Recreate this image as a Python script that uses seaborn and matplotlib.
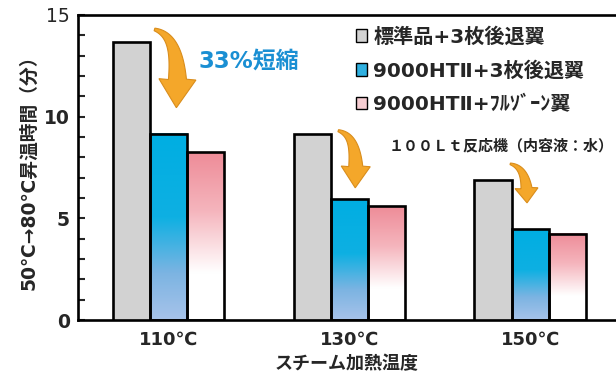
import numpy as np
import pandas as pd
import seaborn as sns
import matplotlib.pyplot as plt
from matplotlib.patches import Patch, Polygon
from matplotlib.colors import to_rgb
from matplotlib.ticker import MultipleLocator
from matplotlib.transforms import IdentityTransform

# data
temps = ['110℃', '130℃', '150℃']
types = ['標準品+3枚後退翼', '9000HTⅡ+3枚後退翼', '9000HTⅡ+ﾌﾙｿﾞｰﾝ翼']
std_times = [13.65, 9.15, 6.9]
ht_times = [9.15, 5.95, 4.47]
full_times = [8.25, 5.6, 4.23]

df = pd.DataFrame({
    'temp': temps * 3,
    'type': [types[0]] * 3 + [types[1]] * 3 + [types[2]] * 3,
    'time': std_times + ht_times + full_times,
})

sns.set_style('ticks')
plt.rcParams['font.family'] = ['DejaVu Sans', 'Noto Sans CJK JP']
plt.rcParams['font.weight'] = 'bold'

fig = plt.figure(figsize=(6.16, 3.79), dpi=100)
ax = fig.add_axes([78 / 616, 1 - 320 / 379, 1 - 78 / 616, 305 / 379])

gray = '#d2d2d2'
palette = {types[0]: gray, types[1]: '#00aee2', types[2]: '#ef8f9b'}
sns.barplot(data=df, x='temp', y='time', hue='type', palette=palette,
            width=0.615, gap=0, edgecolor='black', linewidth=1.9,
            saturation=1, legend=False, ax=ax, zorder=3)


def ramp(stops, n=200):
    # stops: list of (fraction from top, colour)
    pos = np.linspace(0, 1, n)
    fr = [s[0] for s in stops]
    cols = np.array([to_rgb(s[1]) for s in stops])
    arr = np.stack([np.interp(pos, fr, cols[:, k]) for k in range(3)], axis=-1)
    return arr[:, None, :]


grad = {
    1: ramp([(0, '#00aee2'), (0.45, '#0eb0e2'), (0.75, '#7cb4e2'), (1, '#a7c3ea')]),
    2: ramp([(0, '#ee8c98'), (0.35, '#f5b5bd'), (0.72, '#ffffff'), (1, '#ffffff')]),
}

for i, cont in enumerate(ax.containers):
    for bar in cont:
        if i == 0:
            continue
        x0, w, h = bar.get_x(), bar.get_width(), bar.get_height()
        bar.set_facecolor('none')
        ax.imshow(grad[i], extent=[x0, x0 + w, 0, h], aspect='auto',
                  origin='upper', zorder=2, interpolation='bilinear')

ax.set_xlim(-0.5, 2.475)
ax.set_ylim(0, 15)

ax.set_yticks([0, 5, 10, 15])
ax.yaxis.set_minor_locator(MultipleLocator(1))
ax.tick_params(axis='y', which='both', direction='in', length=5, width=1.5,
               labelsize=13.5, pad=6)
ax.tick_params(axis='x', length=0, labelsize=13, pad=8)
for lab in ax.get_yticklabels():
    lab.set_fontweight('bold')
ax.get_yticklabels()[-1].set_fontweight('normal')
for lab in ax.get_xticklabels():
    lab.set_fontweight('bold')

for side in ['left', 'bottom', 'top']:
    ax.spines[side].set_linewidth(1.9)
    ax.spines[side].set_color('black')
ax.spines['right'].set_visible(False)

ax.set_xlabel('スチーム加熱温度', fontsize=13, fontweight='bold', labelpad=4)
ax.set_ylabel('50℃→80℃昇温時間（分）', fontsize=13.5, fontweight='bold', labelpad=4)

# legend
handles = [
    Patch(facecolor=gray, edgecolor='black', lw=1),
    Patch(facecolor='#2fb0e0', edgecolor='black', lw=1),
    Patch(facecolor='#f6cdd2', edgecolor='black', lw=1),
]
fig.legend(handles, types, loc='upper left', bbox_to_anchor=(356 / 616, 1 - 27 / 379),
           frameon=False, prop={'size': 14.5, 'weight': 'bold'},
           handlelength=0.55, handleheight=0.55, handletextpad=0.3,
           labelspacing=0.72, borderpad=0, borderaxespad=0)

# annotations
ax.text(0.165, 12.75, '33%短縮', fontsize=16.5, fontweight='bold', color='#1a8fd3',
        va='center', ha='left')
ax.text(2.462, 8.6, '１００Ｌｔ反応機（内容液：水）', fontsize=10.8, fontweight='bold',
        color='#222222', va='center', ha='right',
        family=['Noto Sans CJK JP', 'DejaVu Sans'])


def curved_arrow(pts, tail_w, head_w, head_l):
    # cubic bezier centre line (data coords) -> tapered block arrow in pixels
    P = ax.transData.transform(np.array(pts))
    t = np.linspace(0, 1, 80)[:, None]
    B = ((1 - t) ** 3 * P[0] + 3 * (1 - t) ** 2 * t * P[1]
         + 3 * (1 - t) * t ** 2 * P[2] + t ** 3 * P[3])
    dist = np.hypot(*(B - P[3]).T)
    line = B[dist >= head_l]
    tang = np.gradient(line, axis=0)
    tang /= np.hypot(*tang.T)[:, None]
    nrm = np.stack([-tang[:, 1], tang[:, 0]], axis=1)
    half = np.linspace(0.15, 1.0, len(line))[:, None] * tail_w / 2
    left, right = line + nrm * half, line - nrm * half
    base = line[-1]
    d = (P[3] - base) / np.hypot(*(P[3] - base))
    nb = np.array([-d[1], d[0]])
    head = [base + nb * head_w / 2, P[3], base - nb * head_w / 2]
    verts = np.vstack([left, head, right[::-1]])
    ax.add_patch(Polygon(verts, closed=True, transform=IdentityTransform(),
                         facecolor='#f4a72a', edgecolor='#d98d1c', lw=0.8,
                         zorder=5, clip_on=False))


curved_arrow([(-0.077, 14.29), (0.04, 14.0), (0.063, 12.7), (0.044, 10.44)], 18, 37, 28)
curved_arrow([(0.939, 9.31), (1.02, 9.1), (1.046, 8.37), (1.033, 6.5)], 14, 29, 21)
curved_arrow([(1.89, 7.68), (1.953, 7.54), (1.986, 7.04), (1.983, 5.76)], 11, 23, 14)

fig.savefig('out.png', dpi=100)
